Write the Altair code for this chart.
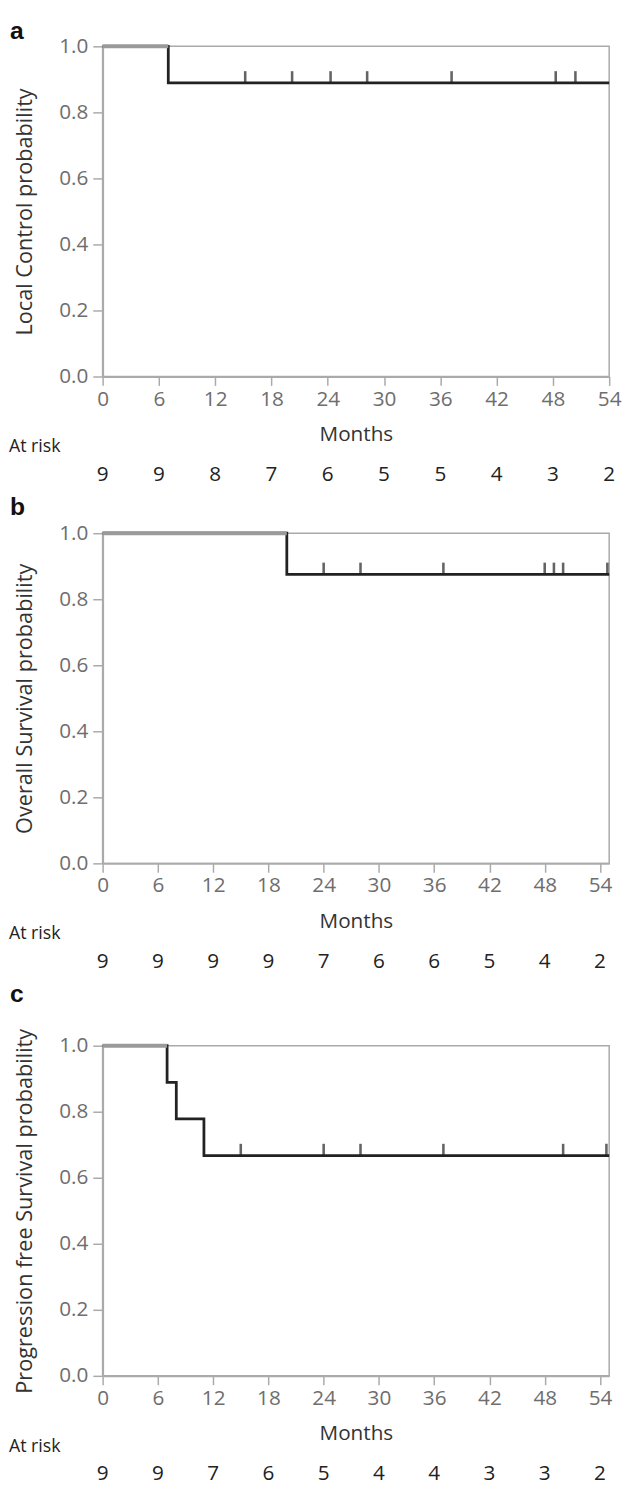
import altair as alt
import pandas as pd

# ---- data ----
months_ticks = [0, 6, 12, 18, 24, 30, 36, 42, 48, 54]

# Panel a: Local control
a_event_t = [0, 7, 54]
a_event_s = [1.0, 0.889, 0.889]
a_cens_t = [15.2, 20.2, 24.3, 28.2, 37.2, 48.3, 50.4]
a_cens_s = [0.889] * 7
a_risk = [9, 9, 8, 7, 6, 5, 5, 4, 3, 2]

# Panel b: Overall survival
b_event_t = [0, 20, 55]
b_event_s = [1.0, 0.875, 0.875]
b_cens_t = [24.0, 28.0, 37.0, 48.0, 49.0, 50.0, 54.8]
b_cens_s = [0.875] * 7
b_risk = [9, 9, 9, 9, 7, 6, 6, 5, 4, 2]

# Panel c: Progression free survival
c_event_t = [0, 7, 8, 11, 55]
c_event_s = [1.0, 0.889, 0.778, 0.667, 0.667]
c_cens_t = [15.0, 24.0, 28.0, 37.0, 50.0, 54.7]
c_cens_s = [0.667] * 6
c_risk = [9, 9, 7, 6, 5, 4, 4, 3, 3, 2]

FONT = "Open Sans"
W = 514
H = 335


def panel(label, ytitle, ev_t, ev_s, ce_t, ce_s, risk, xmax, label_dy):
    curve = pd.DataFrame({"t": ev_t, "s": ev_s})
    cens = pd.DataFrame({"t": ce_t, "s": ce_s})
    first = pd.DataFrame({"t": [ev_t[0]], "t2": [ev_t[1]], "s": [ev_s[0]]})
    risk_df = pd.DataFrame({"t": months_ticks, "n": [str(v) for v in risk]})
    lab_df = pd.DataFrame({"txt": ["At risk"]})
    pl_df = pd.DataFrame({"txt": [label]})

    xsc = alt.Scale(domain=[0, xmax], nice=False, zero=False)
    ysc = alt.Scale(domain=[0, 1], nice=False)

    xax = alt.Axis(
        values=months_ticks, title="Months", grid=False,
        labelFont=FONT, labelFontSize=21, labelColor="#6e6e6e",
        titleFont=FONT, titleFontSize=21, titleColor="#333", titleFontWeight="normal",
        titlePadding=15, labelPadding=3, tickSize=9, tickColor="#aaa",
        domainColor="#aaa", domainWidth=2, tickWidth=1.5, labelFlush=False,
    )
    yax = alt.Axis(
        values=[round(i * 0.1, 1) for i in range(11)], title=ytitle, grid=False,
        labelExpr="round(datum.value*10)%2==0 ? format(datum.value,'.1f') : ''",
        labelFont=FONT, labelFontSize=21, labelColor="#6e6e6e",
        titleFont=FONT, titleFontSize=22, titleColor="#333", titleFontWeight="normal",
        titlePadding=23, labelPadding=5,
        tickSize={"condition": {"test": "round(datum.value*10)%2==1", "value": 5}, "value": 10},
        tickColor="#aaa", tickWidth=1.5, domainColor="#aaa", domainWidth=2,
    )

    line = alt.Chart(curve).mark_line(
        interpolate="step-after", color="#222", strokeWidth=2.8
    ).encode(x=alt.X("t:Q", scale=xsc, axis=xax), y=alt.Y("s:Q", scale=ysc, axis=yax))

    gray = alt.Chart(first).mark_rule(color="#9a9a9a", strokeWidth=4).encode(
        x="t:Q", x2="t2:Q", y="s:Q"
    )

    ticks = alt.Chart(cens).mark_tick(
        orient="vertical", color="#222", size=12, thickness=2.6, yOffset=-6
    ).encode(x="t:Q", y="s:Q")

    risk_txt = alt.Chart(risk_df).mark_text(
        font=FONT, fontSize=21, color="#222", baseline="middle"
    ).encode(x="t:Q", y=alt.value(H + 100), text="n:N")

    atrisk = alt.Chart(lab_df).mark_text(
        font=FONT, fontSize=18, color="#222", align="left", baseline="middle"
    ).encode(x=alt.value(-95), y=alt.value(H + 72), text="txt:N")

    plabel = alt.Chart(pl_df).mark_text(
        font="Liberation Sans", fontSize=25, fontWeight="bold", color="#111",
        align="left", baseline="middle"
    ).encode(x=alt.value(-94), y=alt.value(label_dy), text="txt:N")

    return alt.layer(line, gray, ticks, risk_txt, atrisk, plabel).properties(
        width=W, height=H
    )


pa = panel("a", "Local Control probability", a_event_t, a_event_s, a_cens_t, a_cens_s, a_risk, 54, -15)
pb = panel("b", "Overall Survival probability", b_event_t, b_event_s, b_cens_t, b_cens_s, b_risk, 55, -26)
pc = panel("c", "Progression free Survival probability", c_event_t, c_event_s, c_cens_t, c_cens_s, c_risk, 55, -52)

chart = alt.vconcat(pa, pb, pc, spacing=9).properties(
    padding={"left": 0, "right": 0, "top": 0, "bottom": 0}
).configure_view(stroke="#aaa", strokeWidth=1.5)

chart.save("out.html", embed_options={"renderer": "svg", "actions": False})
